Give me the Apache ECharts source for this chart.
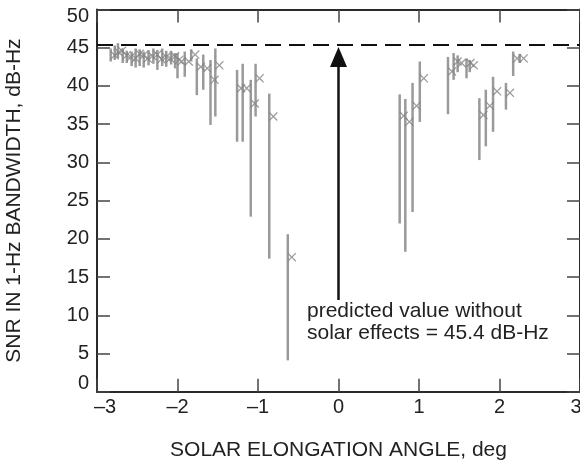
<!DOCTYPE html>
<html>
<head>
<meta charset="utf-8">
<script src="https://cdn.jsdelivr.net/npm/echarts@6/dist/echarts.min.js"></script>
<style>
  html, body { margin: 0; padding: 0; background: #fff; }
  #chart { width: 580px; height: 461px; }
</style>
</head>
<body>
<div id="chart"></div>
<script>
// solar elongation angle, deg
const angle = [
  -2.83, -2.78, -2.74, -2.68, -2.63, -2.57, -2.52, -2.47, -2.42, -2.36, -2.30, -2.25,
  -2.19, -2.14, -2.08, -2.03, -2.00, -1.91, -1.83, -1.76, -1.68, -1.59, -1.53,
  -1.26, -1.19, -1.09, -1.03, -0.86, -0.63,
  0.76, 0.83, 0.92, 1.01, 1.36, 1.43, 1.48, 1.59, 1.63,
  1.75, 1.83, 1.92, 2.08, 2.17, 2.25
]
// measured SNR, dB-Hz
const snr = [
  44.0, 44.4, 44.6, 44.0, 43.8, 43.6, 44.2, 44.0, 43.6, 43.9, 44.1, 43.5,
  43.8, 43.6, 43.9, 43.4, 43.2, 43.2, 44.1, 42.5, 42.3, 40.8, 42.7,
  39.7, 39.7, 37.7, 41.0, 36.0, 17.6,
  36.1, 35.3, 37.4, 41.0, 41.9, 43.2, 43.0, 43.0, 42.7,
  36.2, 37.4, 39.3, 39.1, 43.6, 43.6
]
const snrLow = [
  43.2, 43.4, 43.6, 43.0, 43.0, 42.6, 42.4, 42.6, 42.4, 42.7, 42.9, 42.1,
  42.6, 42.5, 42.8, 42.3, 41.0, 41.2, 43.2, 38.8, 39.5, 34.9, 36.0,
  32.7, 32.7, 22.9, 36.0, 17.4, 4.1,
  22.0, 18.3, 23.5, 35.3, 36.3, 40.8, 41.8, 41.0, 41.8,
  30.3, 32.1, 34.0, 36.9, 41.3, 43.0
]
const snrHigh = [
  44.9, 45.3, 45.6, 44.8, 44.6, 44.5, 44.9, 44.8, 44.5, 44.7, 44.9, 44.7,
  44.9, 44.6, 44.6, 44.3, 44.3, 44.5, 44.8, 43.6, 44.1, 43.4, 44.9,
  42.1, 42.9, 40.8, 42.9, 39.0, 20.6,
  38.9, 38.3, 40.4, 43.2, 43.8, 44.3, 44.0, 43.6, 43.4,
  38.4, 39.5, 41.2, 40.4, 44.5, 44.2
]
const predicted = 45.4
const xTicks = [-3, -2, -1, 0, 1, 2, 3]
const yTicks = [0, 5, 10, 15, 20, 25, 30, 35, 40, 45, 50]

const FONT = 'Liberation Sans, Arial, Helvetica, sans-serif'

const chart = echarts.init(document.getElementById('chart'), null, { renderer: 'canvas' })

const bars = angle.map((a, i) => [a, snrLow[i], snrHigh[i]])
const points = angle.map((a, i) => [a, snr[i]])

const axisLineStyle = { show: true, onZero: false, lineStyle: { color: '#2a2a2a', width: 2 } }
const tickStyle = { show: true, inside: true, length: 13, lineStyle: { color: '#444', width: 1.5 } }

const option = {
  animation: false,
  grid: { left: 97, right: 0, top: 9.5, bottom: 69.3, outerBoundsMode: 'none', containLabel: false },
  xAxis: [
    {
      type: 'value',
      min: xTicks[0],
      max: xTicks[xTicks.length - 1],
      interval: 1,
      splitLine: { show: false },
      axisLine: axisLineStyle,
      axisTick: tickStyle,
      axisLabel: {
        margin: 6,
        color: '#222',
        fontFamily: FONT,
        fontSize: 20,
        showMinLabel: true,
        showMaxLabel: true,
        formatter: function (v) {
          const s = v < 0 ? '\u2013' + Math.abs(v) : String(v)
          if (v === xTicks[0]) return '{lo|' + s + '}'
          if (v === xTicks[xTicks.length - 1]) return '{hi|' + s + '}'
          return s
        },
        rich: {
          lo: { fontSize: 20, fontFamily: FONT, color: '#222', padding: [0, 0, 0, 16] },
          hi: { fontSize: 20, fontFamily: FONT, color: '#222', padding: [0, 8, 0, 0] }
        }
      },
      name: 'SOLAR ELONGATION ANGLE, deg',
      nameLocation: 'middle',
      nameGap: 48,
      nameTextStyle: { color: '#222', fontFamily: FONT, fontSize: 21 }
    },
    {
      type: 'value',
      position: 'top',
      min: xTicks[0],
      max: xTicks[xTicks.length - 1],
      interval: 1,
      splitLine: { show: false },
      axisLine: axisLineStyle,
      axisTick: tickStyle,
      axisLabel: { show: false }
    }
  ],
  yAxis: [
    {
      type: 'value',
      min: yTicks[0],
      max: yTicks[yTicks.length - 1],
      interval: 5,
      splitLine: { show: false },
      axisLine: axisLineStyle,
      axisTick: tickStyle,
      axisLabel: {
        margin: 8,
        color: '#222',
        fontFamily: FONT,
        fontSize: 20,
        showMinLabel: true,
        showMaxLabel: true,
        formatter: function (v) {
          if (v === yTicks[0]) return '{lo|' + v + '}'
          if (v === yTicks[yTicks.length - 1]) return '{hi|' + v + '}'
          return String(v)
        },
        rich: {
          lo: { fontSize: 20, fontFamily: FONT, color: '#222', padding: [0, 0, 16, 0] },
          hi: { fontSize: 20, fontFamily: FONT, color: '#222', padding: [14, 0, 0, 0] }
        }
      },
      name: 'SNR IN 1-Hz BANDWIDTH, dB-Hz',
      nameLocation: 'middle',
      nameGap: 72,
      nameTextStyle: { color: '#222', fontFamily: FONT, fontSize: 21 }
    },
    {
      type: 'value',
      position: 'right',
      min: yTicks[0],
      max: yTicks[yTicks.length - 1],
      interval: 5,
      splitLine: { show: false },
      axisLine: axisLineStyle,
      axisTick: tickStyle,
      axisLabel: { show: false }
    }
  ],
  series: [
    {
      name: 'range',
      type: 'custom',
      xAxisIndex: 0,
      yAxisIndex: 0,
      data: bars,
      encode: { x: 0, y: [1, 2] },
      renderItem: function (params, api) {
        const x = api.value(0)
        const p1 = api.coord([x, api.value(1)])
        const p2 = api.coord([x, api.value(2)])
        return {
          type: 'line',
          shape: { x1: p1[0], y1: p1[1], x2: p2[0], y2: p2[1] },
          style: { stroke: '#9a9a9a', lineWidth: 2.5 }
        }
      },
      markLine: {
        silent: true,
        symbol: ['none', 'triangle'],
        symbolSize: [17, 20],
        label: { show: false },
        lineStyle: { color: '#111', width: 2.5, type: 'solid' },
        data: [[{ coord: [0, 12.0] }, { coord: [0, 43.8] }]]
      }
    },
    {
      name: 'SNR',
      type: 'scatter',
      xAxisIndex: 0,
      yAxisIndex: 0,
      data: points,
      symbol: 'path://M0,1L1,0L5,4L9,0L10,1L6,5L10,9L9,10L5,6L1,10L0,9L4,5Z',
      symbolSize: 9,
      symbolOffset: [4, 0],
      itemStyle: { color: '#858585' },
      markLine: {
        silent: true,
        symbol: 'none',
        label: { show: false },
        lineStyle: { color: '#111', width: 2, type: [16, 8] },
        data: [{ yAxis: predicted }]
      }
    }
  ],
  graphic: [
    {
      type: 'text',
      left: 307,
      top: 300,
      style: {
        text: 'predicted value without\nsolar effects = ' + predicted + ' dB-Hz',
        font: '21px ' + FONT,
        fill: '#222',
        lineHeight: 22
      }
    }
  ]
}

chart.setOption(option)
</script>
</body>
</html>
